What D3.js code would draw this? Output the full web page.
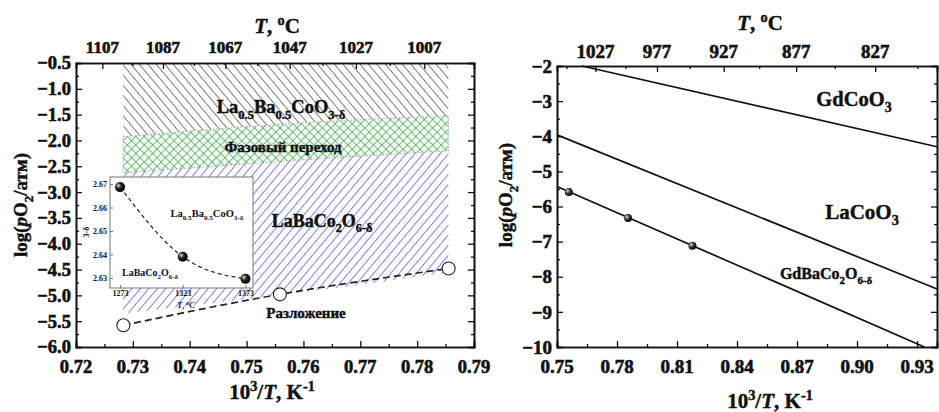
<!DOCTYPE html>
<html>
<head>
<meta charset="utf-8">
<script src="https://cdn.jsdelivr.net/npm/d3@7"></script>
<style>
  html, body { margin: 0; padding: 0; background: #fff; }
  svg { display: block; }
  text { font-family: "Liberation Serif", "Times New Roman", serif; font-weight: bold; fill: #111; }
  text.heavy { stroke: #111; stroke-width: 0.45px; }
  text.tick { stroke: #111; stroke-width: 0.6px; }
</style>
</head>
<body>
<svg id="chart" width="939" height="412"></svg>
<script>
// ---------- data: LaBaCo2O6-δ phase diagram (left) ----------
const tempsK = [1373, 1323, 1273];                 // measurement temperatures, K
const decompLogPO2 = [-5.58, -4.98, -4.48];         // decomposition boundary, log(pO2/atm)
const regionX = [0.7283, 0.7569, 0.7855];           // 10^3/T where region edges are sampled
const transUpper = [-1.93, -1.68, -1.52];           // top of the phase-transition band
const transLower = [-2.63, -2.40, -2.20];           // bottom of the phase-transition band
const blueLower = [-5.35, -4.98, -4.55];            // lower edge of the LaBaCo2O6-δ field
const leftTopC = [1107, 1087, 1067, 1047, 1027, 1007];
const leftXTicks = [0.72, 0.73, 0.74, 0.75, 0.76, 0.77, 0.78, 0.79];
const leftYTicks = [-6.0, -5.5, -5.0, -4.5, -4.0, -3.5, -3.0, -2.5, -2.0, -1.5, -1.0, -0.5];

// inset: oxygen content 3-δ vs temperature
const insetT = [1273, 1323, 1373];
const insetOxy = [2.6687, 2.639, 2.6296];
const insetYTicks = [2.63, 2.64, 2.65, 2.66, 2.67];

// ---------- data: cobaltite stability lines (right) ----------
const gdCoO3X = [0.7625, 0.94], gdCoO3Y = [-2.0, -4.30];
const laCoO3X = [0.75, 0.94], laCoO3Y = [-3.96, -8.35];
const gdBaFitX = [0.75, 0.9337], gdBaFitY = [-5.43, -10.0];
const gdBaPtsX = [0.7559, 0.7855, 0.8177], gdBaPtsY = [-5.59, -6.33, -7.12];
const rightTopC = [1027, 977, 927, 877, 827];
const rightXTicks = [0.75, 0.78, 0.81, 0.84, 0.87, 0.90, 0.93];
const rightYTicks = [-10, -9, -8, -7, -6, -5, -4, -3, -2];

const svg = d3.select("#chart");
svg.append("rect").attr("width", 939).attr("height", 412).attr("fill", "#fff");
const defs = svg.append("defs");

// hatch patterns
function hatch(id, color, angle, gap, width) {
  const p = defs.append("pattern").attr("id", id).attr("patternUnits", "userSpaceOnUse")
    .attr("width", gap).attr("height", gap).attr("patternTransform", `rotate(${angle})`);
  p.append("line").attr("x1", 0).attr("y1", 0).attr("x2", 0).attr("y2", gap)
    .attr("stroke", color).attr("stroke-width", width);
}
hatch("hBlack", "#3a3a3a", -40, 6.5, 1.3);
hatch("hBlue", "#4a4cf2", 40, 6.5, 1.4);
const cross = defs.append("pattern").attr("id", "hGreen").attr("patternUnits", "userSpaceOnUse")
  .attr("width", 6).attr("height", 6).attr("patternTransform", "rotate(45)");
cross.append("rect").attr("width", 6).attr("height", 6).attr("fill", "#f6fff6");
cross.append("line").attr("x1", 0).attr("y1", 0).attr("x2", 0).attr("y2", 6).attr("stroke", "#2f9a3c").attr("stroke-width", 1.3);
cross.append("line").attr("x1", 0).attr("y1", 0).attr("x2", 6).attr("y2", 0).attr("stroke", "#2f9a3c").attr("stroke-width", 1.3);

// shaded sphere markers
function sphere(id, dark) {
  const g = defs.append("radialGradient").attr("id", id).attr("cx", "35%").attr("cy", "35%").attr("r", "65%");
  g.append("stop").attr("offset", "0%").attr("stop-color", "#ddd");
  g.append("stop").attr("offset", "45%").attr("stop-color", dark);
  g.append("stop").attr("offset", "100%").attr("stop-color", "#000");
}
sphere("ballBlack", "#222");
sphere("ballGray", "#444");

// rich text helper: parts = [{t, sub, sup, it}]
function rich(sel, parts, size) {
  let off = 0;
  parts.forEach(p => {
    const ts = sel.append("tspan").text(p.t);
    let target = 0;
    if (p.sub) target = size * 0.3;
    if (p.sup) target = -size * 0.38;
    ts.attr("dy", target - off);
    off = target;
    if (p.sub || p.sup) ts.attr("font-size", size * 0.68);
    if (p.it) ts.attr("font-style", "italic");
  });
  return sel;
}
function label(x, y, parts, size, anchor = "middle", rotate = null, heavy = true) {
  const t = svg.append("text").attr("x", x).attr("y", y).attr("font-size", size).attr("text-anchor", anchor);
  if (heavy) t.attr("class", "heavy");
  if (rotate !== null) t.attr("transform", `rotate(${rotate},${x},${y})`);
  return rich(t, parts, size);
}

// frame with inward ticks on all four sides; tick labels drawn as plain text from the scales
function frameAxes(g, x, y, o) {
  const [x0, x1] = x.range(), [y0, y1] = y.range();
  const styleAxis = a => {
    a.select(".domain").attr("stroke", "#111").attr("stroke-width", 1.6);
    a.selectAll(".tick line").attr("stroke", "#111").attr("stroke-width", 1.3);
    a.selectAll(".tick text").remove();
  };
  const cx = c => 1000 / (c + 273);
  const add = (axis, tr) => g.append("g").attr("transform", tr).call(axis).call(styleAxis);
  add(d3.axisBottom(x).tickValues(o.xMinor).tickSize(-3), `translate(0,${y0})`);
  add(d3.axisBottom(x).tickValues(o.xTicks).tickSize(-6), `translate(0,${y0})`);
  add(d3.axisLeft(y).tickValues(o.yMinor).tickSize(-3), `translate(${x0},0)`);
  add(d3.axisLeft(y).tickValues(o.yTicks).tickSize(-6), `translate(${x0},0)`);
  add(d3.axisRight(y).tickValues(o.yMinor).tickSize(-3), `translate(${x1},0)`);
  add(d3.axisRight(y).tickValues(o.yTicks).tickSize(-6), `translate(${x1},0)`);
  add(d3.axisTop(x).tickValues(o.cMinor.map(cx).filter(v => v > x.domain()[0] && v < x.domain()[1])).tickSize(-3), `translate(0,${y1})`);
  add(d3.axisTop(x).tickValues(o.cTicks.map(cx)).tickSize(-6), `translate(0,${y1})`);

  const lab = g.append("g");
  lab.selectAll("text.xl").data(o.xTicks).join("text").attr("class", "tick")
    .attr("x", d => x(d)).attr("y", y0 + o.xPad).attr("text-anchor", "middle")
    .attr("font-size", o.fs).text(d3.format(".2f"));
  lab.selectAll("text.yl").data(o.yTicks).join("text").attr("class", "tick")
    .attr("x", x0 - o.yPad).attr("y", d => y(d)).attr("dy", "0.35em").attr("text-anchor", "end")
    .attr("font-size", o.fs).text(o.yFmt);
  lab.selectAll("text.tl").data(o.cTicks).join("text").attr("class", "tick")
    .attr("x", d => x(cx(d))).attr("y", y1 - o.tPad).attr("text-anchor", "middle")
    .attr("font-size", o.tfs).text(d => d);
}

// ================= LEFT PANEL =================
const xL = d3.scaleLinear().domain([0.72, 0.79]).range([76, 474]);
const yL = d3.scaleLinear().domain([-6.0, -0.5]).range([347, 63]);
const gL = svg.append("g");

const area = (lo, hi) => d3.area().x((d, i) => xL(regionX[i]))
  .y0((d, i) => yL(lo[i])).y1((d, i) => yL(hi[i])).curve(d3.curveMonotoneX)(regionX);

gL.append("path").attr("d", area(transUpper, regionX.map(() => -0.5))).attr("fill", "url(#hBlack)");
gL.append("path").attr("d", area(transLower, transUpper)).attr("fill", "url(#hGreen)")
  .attr("stroke", "#999").attr("stroke-width", 0.8).attr("stroke-dasharray", "1.5,1.5");
gL.append("path").attr("d", area(blueLower, transLower)).attr("fill", "url(#hBlue)");

// decomposition boundary
const decompX = tempsK.map(t => 1000 / t);
gL.append("path")
  .attr("d", d3.line().x(d => xL(d[0])).y(d => yL(d[1])).curve(d3.curveNatural)(decompX.map((x, i) => [x, decompLogPO2[i]])))
  .attr("fill", "none").attr("stroke", "#222").attr("stroke-width", 1.7).attr("stroke-dasharray", "7,4");
gL.selectAll("circle.open").data(decompX).join("circle")
  .attr("cx", d => xL(d)).attr("cy", (d, i) => yL(decompLogPO2[i])).attr("r", 6.5)
  .attr("fill", "#fff").attr("stroke", "#222").attr("stroke-width", 1.1);

frameAxes(gL, xL, yL, {
  xTicks: leftXTicks, xMinor: d3.range(0.725, 0.79, 0.01),
  yTicks: leftYTicks, yMinor: d3.range(-5.75, -0.5, 0.5), yFmt: d3.format(".1f"),
  cTicks: leftTopC, cMinor: d3.range(1117, 997, -20),
  fs: 18.5, tfs: 17, xPad: 26, yPad: 5, tPad: 10
});

// region labels
label(281, 113, [{t: "La"}, {t: "0.5", sub: 1}, {t: "Ba"}, {t: "0.5", sub: 1}, {t: "CoO"}, {t: "3-δ", sub: 1}], 18.5);
label(283, 152, [{t: "Фазовый переход"}], 15);
label(322, 227, [{t: "LaBaCo"}, {t: "2", sub: 1}, {t: "O"}, {t: "6-δ", sub: 1}], 18);
label(306, 318, [{t: "Разложение"}], 15);

// inset
const xI = d3.scaleLinear().domain([1265, 1379]).range([110, 253]);
const yI = d3.scaleLinear().domain([2.6257, 2.673]).range([288, 177]);
const gI = svg.append("g");
gI.append("rect").attr("x", 110).attr("y", 177).attr("width", 143).attr("height", 111)
  .attr("fill", "#fff").attr("stroke", "#777").attr("stroke-width", 1);
const insetStyle = a => {
  a.attr("font-family", null);
  a.select(".domain").remove();
  a.selectAll(".tick line").attr("stroke", "#777");
  a.selectAll("text").attr("font-size", 8).attr("fill", "#333");
};
gI.append("g").attr("transform", "translate(110,0)")
  .call(d3.axisLeft(yI).tickValues(insetYTicks).tickSizeInner(-3).tickSizeOuter(0).tickPadding(3).tickFormat(d3.format(".2f"))).call(insetStyle);
gI.append("g").attr("transform", "translate(0,288)")
  .call(d3.axisBottom(xI).tickValues(insetT).tickSizeInner(-3).tickSizeOuter(0).tickPadding(2).tickFormat(d3.format("d"))).call(insetStyle);
gI.append("path")
  .attr("d", d3.line().x(d => xI(d[0])).y(d => yI(d[1])).curve(d3.curveNatural)(insetT.map((t, i) => [t, insetOxy[i]])))
  .attr("fill", "none").attr("stroke", "#222").attr("stroke-width", 1.2).attr("stroke-dasharray", "4,3");
gI.selectAll("circle").data(insetT).join("circle")
  .attr("cx", d => xI(d)).attr("cy", (d, i) => yI(insetOxy[i])).attr("r", 5).attr("fill", "url(#ballBlack)");
svg.append("text").attr("x", 89).attr("y", 232).attr("font-size", 8).attr("text-anchor", "middle")
  .attr("transform", "rotate(-90,89,232)").attr("fill", "#333").text("3-δ");
label(186, 308, [{t: "T", it: 1}, {t: ", "}, {t: "o", sup: 1}, {t: "C"}], 8, "middle", null, false).attr("fill", "#333");
label(207, 217, [{t: "La"}, {t: "0.5", sub: 1}, {t: "Ba"}, {t: "0.5", sub: 1}, {t: "CoO"}, {t: "3-δ", sub: 1}], 10.5, "middle", null, false).attr("fill", "#333");
label(150, 276, [{t: "LaBaCo"}, {t: "2", sub: 1}, {t: "O"}, {t: "6-δ", sub: 1}], 10, "middle", null, false).attr("fill", "#333");

// axis titles (left)
label(277, 33, [{t: "T", it: 1}, {t: ", "}, {t: "o", sup: 1}, {t: "C"}], 21);
label(272, 399, [{t: "10"}, {t: "3", sup: 1}, {t: "/"}, {t: "T", it: 1}, {t: ", K"}, {t: "-1", sup: 1}], 21);
label(27, 205, [{t: "log("}, {t: "p", it: 1}, {t: "O"}, {t: "2", sub: 1}, {t: "/атм)"}], 19, "middle", -90);

// ================= RIGHT PANEL =================
const xR = d3.scaleLinear().domain([0.75, 0.94]).range([557, 937]);
const yR = d3.scaleLinear().domain([-10, -2]).range([347, 66]);
const gR = svg.append("g");
const seg = (xs, ys) => d3.line().x(d => xR(d[0])).y(d => yR(d[1]))(xs.map((x, i) => [x, ys[i]]));
[[gdCoO3X, gdCoO3Y], [laCoO3X, laCoO3Y], [gdBaFitX, gdBaFitY]].forEach(([xs, ys]) =>
  gR.append("path").attr("d", seg(xs, ys)).attr("fill", "none").attr("stroke", "#111").attr("stroke-width", 1.7));
gR.selectAll("circle").data(gdBaPtsX).join("circle")
  .attr("cx", d => xR(d)).attr("cy", (d, i) => yR(gdBaPtsY[i])).attr("r", 4).attr("fill", "url(#ballGray)");

frameAxes(gR, xR, yR, {
  xTicks: rightXTicks, xMinor: d3.range(0.765, 0.94, 0.03),
  yTicks: rightYTicks, yMinor: d3.range(-9.5, -2, 1), yFmt: d3.format("d"),
  cTicks: rightTopC, cMinor: d3.range(1052, 790, -50),
  fs: 19, tfs: 19, xPad: 26, yPad: 5, tPad: 8
});

label(854, 106, [{t: "GdCoO"}, {t: "3", sub: 1}], 20.5);
label(862, 219, [{t: "LaCoO"}, {t: "3", sub: 1}], 21);
label(826, 279, [{t: "GdBaCo"}, {t: "2", sub: 1}, {t: "O"}, {t: "6-δ", sub: 1}], 16);

label(760, 30, [{t: "T", it: 1}, {t: ", "}, {t: "o", sup: 1}, {t: "C"}], 21);
label(770, 408, [{t: "10"}, {t: "3", sup: 1}, {t: "/"}, {t: "T", it: 1}, {t: ", K"}, {t: "-1", sup: 1}], 21);
label(512, 195, [{t: "log("}, {t: "p", it: 1}, {t: "O"}, {t: "2", sub: 1}, {t: "/атм)"}], 19, "middle", -90);
</script>
</body>
</html>
